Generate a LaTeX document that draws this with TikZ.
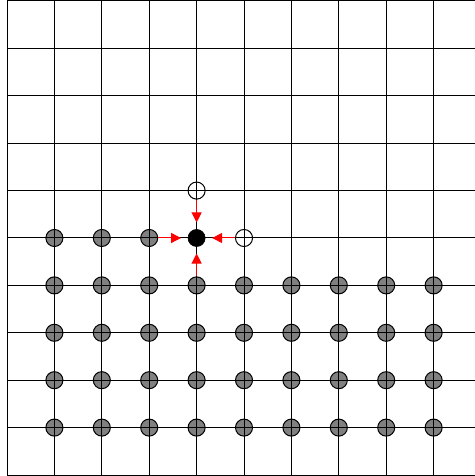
\documentclass[tikz,border=0pt]{standalone}
\usetikzlibrary{arrows.meta}
\begin{document}
\begin{tikzpicture}[x=1cm,y=1cm,
  gridline/.style={black, line width=0.6pt},
  graydot/.style={circle, fill=gray, draw=black, line width=0.6pt, minimum size=0.36cm, inner sep=0pt},
  opendot/.style={circle, draw=black, line width=0.6pt, minimum size=0.36cm, inner sep=0pt},
  blackdot/.style={circle, fill=black, draw=black, minimum size=0.36cm, inner sep=0pt},
  redarrow/.style={red, line width=0.6pt, -{Triangle[length=6pt,width=6pt]}, shorten >=4pt}]
\useasboundingbox (-0.1477,-0.021) rectangle (9.873,10.021);
% gray dots (drawn first so grid lines show through)
\foreach \i in {1,2,3} \node[graydot] (g\i-5) at (\i,5) {};
\foreach \j in {4,3,2,1}
  \foreach \i in {1,...,9} \node[graydot] (g\i-\j) at (\i,\j) {};
% grid
\foreach \i in {0,...,9} \draw[gridline] (\i,0) -- (\i,10);
\foreach \j in {0,...,10} \draw[gridline] (0,\j) -- (9.873,\j);
% special dots
\node[opendot] (top) at (4,6) {};
\node[opendot] (right) at (5,5) {};
\node[blackdot] (c) at (4,5) {};
% arrows
\draw[redarrow] (g3-5) -- (c);
\draw[redarrow] (right) -- (c);
\draw[redarrow] (top) -- (c);
\draw[redarrow] (g4-4) -- (c);
\end{tikzpicture}
\end{document}
